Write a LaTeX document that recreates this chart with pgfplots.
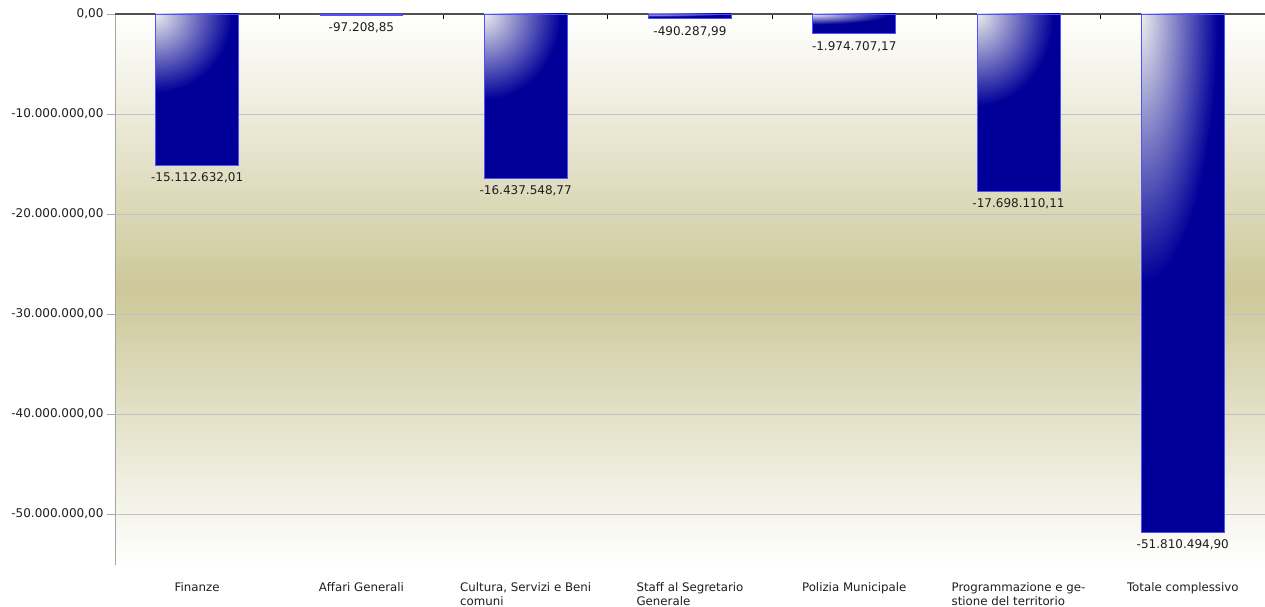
\documentclass[border=0pt]{standalone}
\usepackage{fontspec}
\setmainfont{DejaVu Sans}
\usepackage{pgfplots}
\pgfplotsset{compat=1.18}
\definecolor{bblue}{RGB}{0,0,153}
\definecolor{bborder}{RGB}{80,80,255}
\definecolor{bgolive}{RGB}{204,200,153}
\definecolor{gridc}{RGB}{192,192,200}
\definecolor{zeroc}{RGB}{80,80,80}
\definecolor{txt}{RGB}{30,30,30}
\pgfdeclarefunctionalshading{barshade}{\pgfpoint{-50bp}{-50bp}}{\pgfpoint{50bp}{50bp}}{}{
 25 sub 26 div dup mul exch 25 add 46 div dup mul add sqrt dup 1 gt {pop 1} if
 1 exch sub dup 0.93 mul exch dup 0.93 mul exch 0.33 mul 0.6 add
}
\pgfplotsset{barstyle/.style={ybar, draw=bborder, line width=0.8pt, shade, shading=barshade}}
\begin{document}
\begin{tikzpicture}
\useasboundingbox (-115pt,-42pt) rectangle (1150pt,565pt);
\begin{axis}[
 at={(0,0)}, anchor=south west,
 scale only axis, width=1150pt, height=551pt,
 xmin=-0.5, xmax=6.5, ymin=-55100000, ymax=0,
 axis x line=box, axis y line*=left,
 x axis line style={draw=none},
 y axis line style={draw=gray!70, line width=0.8pt},
 tick align=inside,
 xtick={0,...,6},
 xticklabels={Finanze,Affari Generali,{Cultura, Servizi e Beni\\comuni},{Staff al Segretario\\Generale},Polizia Municipale,{Programmazione e ge-\\stione del territorio},Totale complessivo},
 xtick pos=right,
 xticklabel pos=left,
 major x tick style={draw=none},
 minor xtick={0.5,1.5,...,5.5},
 minor tick length=5pt,
 minor x tick style={draw=black, line width=0.8pt, yshift=-5pt},
 ytick={-50000000,-40000000,-30000000,-20000000,-10000000,0},
 yticklabels={{\textnormal{-50.000.000,00}},{\textnormal{-40.000.000,00}},{\textnormal{-30.000.000,00}},{\textnormal{-20.000.000,00}},{\textnormal{-10.000.000,00}},{\textnormal{0,00}}},
 scaled y ticks=false,
 major tick length=8pt,
 major y tick style={draw=gray!70, line width=0.8pt, xshift=-8pt},
 ymajorgrids, major grid style={draw=gridc, line width=0.8pt},
 extra y ticks={0}, extra y tick labels={},
 extra y tick style={grid=major, major grid style={draw=zeroc, line width=1.3pt}, major tick length=0pt},
 y tick label style={font=\fontsize{12}{14.5}\selectfont, text=txt, anchor=east, xshift=-8pt},
 x tick label style={font=\fontsize{11.8}{14.5}\selectfont, text=txt, align=left, anchor=north, yshift=-6pt},
 axis background/.style={top color=white, bottom color=white, middle color=bgolive},
 ybar=0pt, bar width=0.505, bar shift=0pt,
 nodes near coords={\textnormal{\pgfplotspointmeta}}, point meta=explicit symbolic,
 every node near coord/.append style={anchor=north, font=\fontsize{12}{13}\selectfont, text=txt, inner sep=1pt, yshift=-6pt},
]
\addplot[barstyle] table[x=x,y=y,meta=lab,row sep=\\]{x y lab\\ 0 -15112632.01 -15.112.632,01\\};
\addplot[barstyle] table[x=x,y=y,meta=lab,row sep=\\]{x y lab\\ 1 -97208.85 -97.208,85\\};
\addplot[barstyle] table[x=x,y=y,meta=lab,row sep=\\]{x y lab\\ 2 -16437548.77 -16.437.548,77\\};
\addplot[barstyle] table[x=x,y=y,meta=lab,row sep=\\]{x y lab\\ 3 -490287.99 -490.287,99\\};
\addplot[barstyle] table[x=x,y=y,meta=lab,row sep=\\]{x y lab\\ 4 -1974707.17 -1.974.707,17\\};
\addplot[barstyle] table[x=x,y=y,meta=lab,row sep=\\]{x y lab\\ 5 -17698110.11 -17.698.110,11\\};
\addplot[barstyle] table[x=x,y=y,meta=lab,row sep=\\]{x y lab\\ 6 -51810494.90 -51.810.494,90\\};
\end{axis}
\end{tikzpicture}
\end{document}
